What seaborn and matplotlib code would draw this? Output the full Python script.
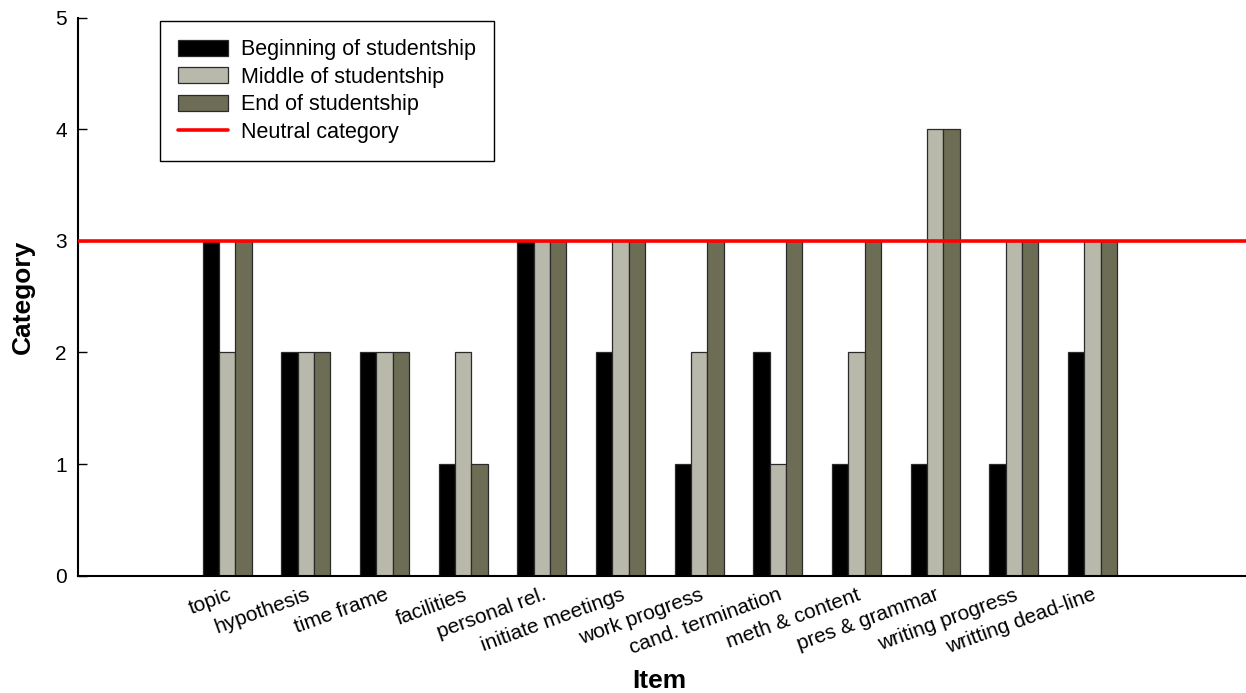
import matplotlib
matplotlib.use("Agg")
import matplotlib.pyplot as plt
import seaborn as sns
import pandas as pd
from matplotlib.patches import Patch
from matplotlib.lines import Line2D

items = ["topic", "hypothesis", "time frame", "facilities", "personal rel.",
         "initiate meetings", "work progress", "cand. termination",
         "meth & content", "pres & grammar", "writing progress",
         "writting dead-line"]
beginning = [3, 2, 2, 1, 3, 2, 1, 2, 1, 1, 1, 2]
middle = [2, 2, 2, 2, 3, 3, 2, 1, 2, 4, 3, 3]
end = [3, 2, 2, 1, 3, 3, 3, 3, 3, 4, 3, 3]
phases = ["Beginning of studentship", "Middle of studentship", "End of studentship"]
neutral_label = "Neutral category"
neutral_value = 3
yticks = [0, 1, 2, 3, 4, 5]
colors = ["#000000", "#b8b8ab", "#6d6d55"]

rows = []
for i, it in enumerate(items):
    for ph, vals in zip(phases, [beginning, middle, end]):
        rows.append({"Item": it, "Phase": ph, "Category": vals[i]})
df = pd.DataFrame(rows)

sns.set_theme(style="white")
plt.rcParams["font.family"] = ["Liberation Sans", "DejaVu Sans"]

fig = plt.figure(figsize=(12.46, 6.93), dpi=100)
ax = fig.add_axes([0.0624, 0.1693, 0.9376, 0.8054])

sns.barplot(data=df, x="Item", y="Category", hue="Phase", hue_order=phases,
            palette=colors, width=0.624, edgecolor="#2a2a2a", linewidth=0.9,
            legend=False, ax=ax, errorbar=None, saturation=1)

ax.axhline(neutral_value, color="#ff0000", lw=2.6, zorder=5)

ax.set_xlim(-1.90, 12.95)
ax.set_ylim(0, 5)
ax.set_yticks(yticks)
ax.tick_params(axis="y", direction="in", length=6.5, width=1, pad=8,
               labelsize=15, left=True, colors="black")
ax.tick_params(axis="x", length=0, pad=7, labelsize=15, colors="black")
ax.set_xticks(range(len(items)))
ax.set_xticklabels(items, rotation=20, ha="right", rotation_mode="anchor")

for s in ["top", "right"]:
    ax.spines[s].set_visible(False)
for s in ["left", "bottom"]:
    ax.spines[s].set_color("black")
    ax.spines[s].set_linewidth(1.5)

ax.set_xlabel("Item", fontsize=19, fontweight="bold", color="black")
ax.set_ylabel("Category", fontsize=19, fontweight="bold", color="black")
ax.xaxis.set_label_coords(0.498, -0.167)
ax.yaxis.set_label_coords(-0.037, 0.5)

handles = [Patch(facecolor=c, edgecolor="#2a2a2a", linewidth=0.9) for c in colors]
handles.append(Line2D([0], [0], color="#ff0000", lw=2.6))
leg = ax.legend(handles, phases + [neutral_label], loc="upper left",
                bbox_to_anchor=(0.0704, 0.9937), borderaxespad=0,
                fontsize=15.5, frameon=True, fancybox=False,
                handlelength=2.3, handleheight=0.75, handletextpad=0.6,
                labelspacing=0.3, borderpad=0.85)
leg.get_frame().set_edgecolor("black")
leg.get_frame().set_linewidth(1.0)
leg.get_frame().set_alpha(1)
for t in leg.get_texts():
    t.set_color("black")

fig.savefig("out.png", dpi=100)
